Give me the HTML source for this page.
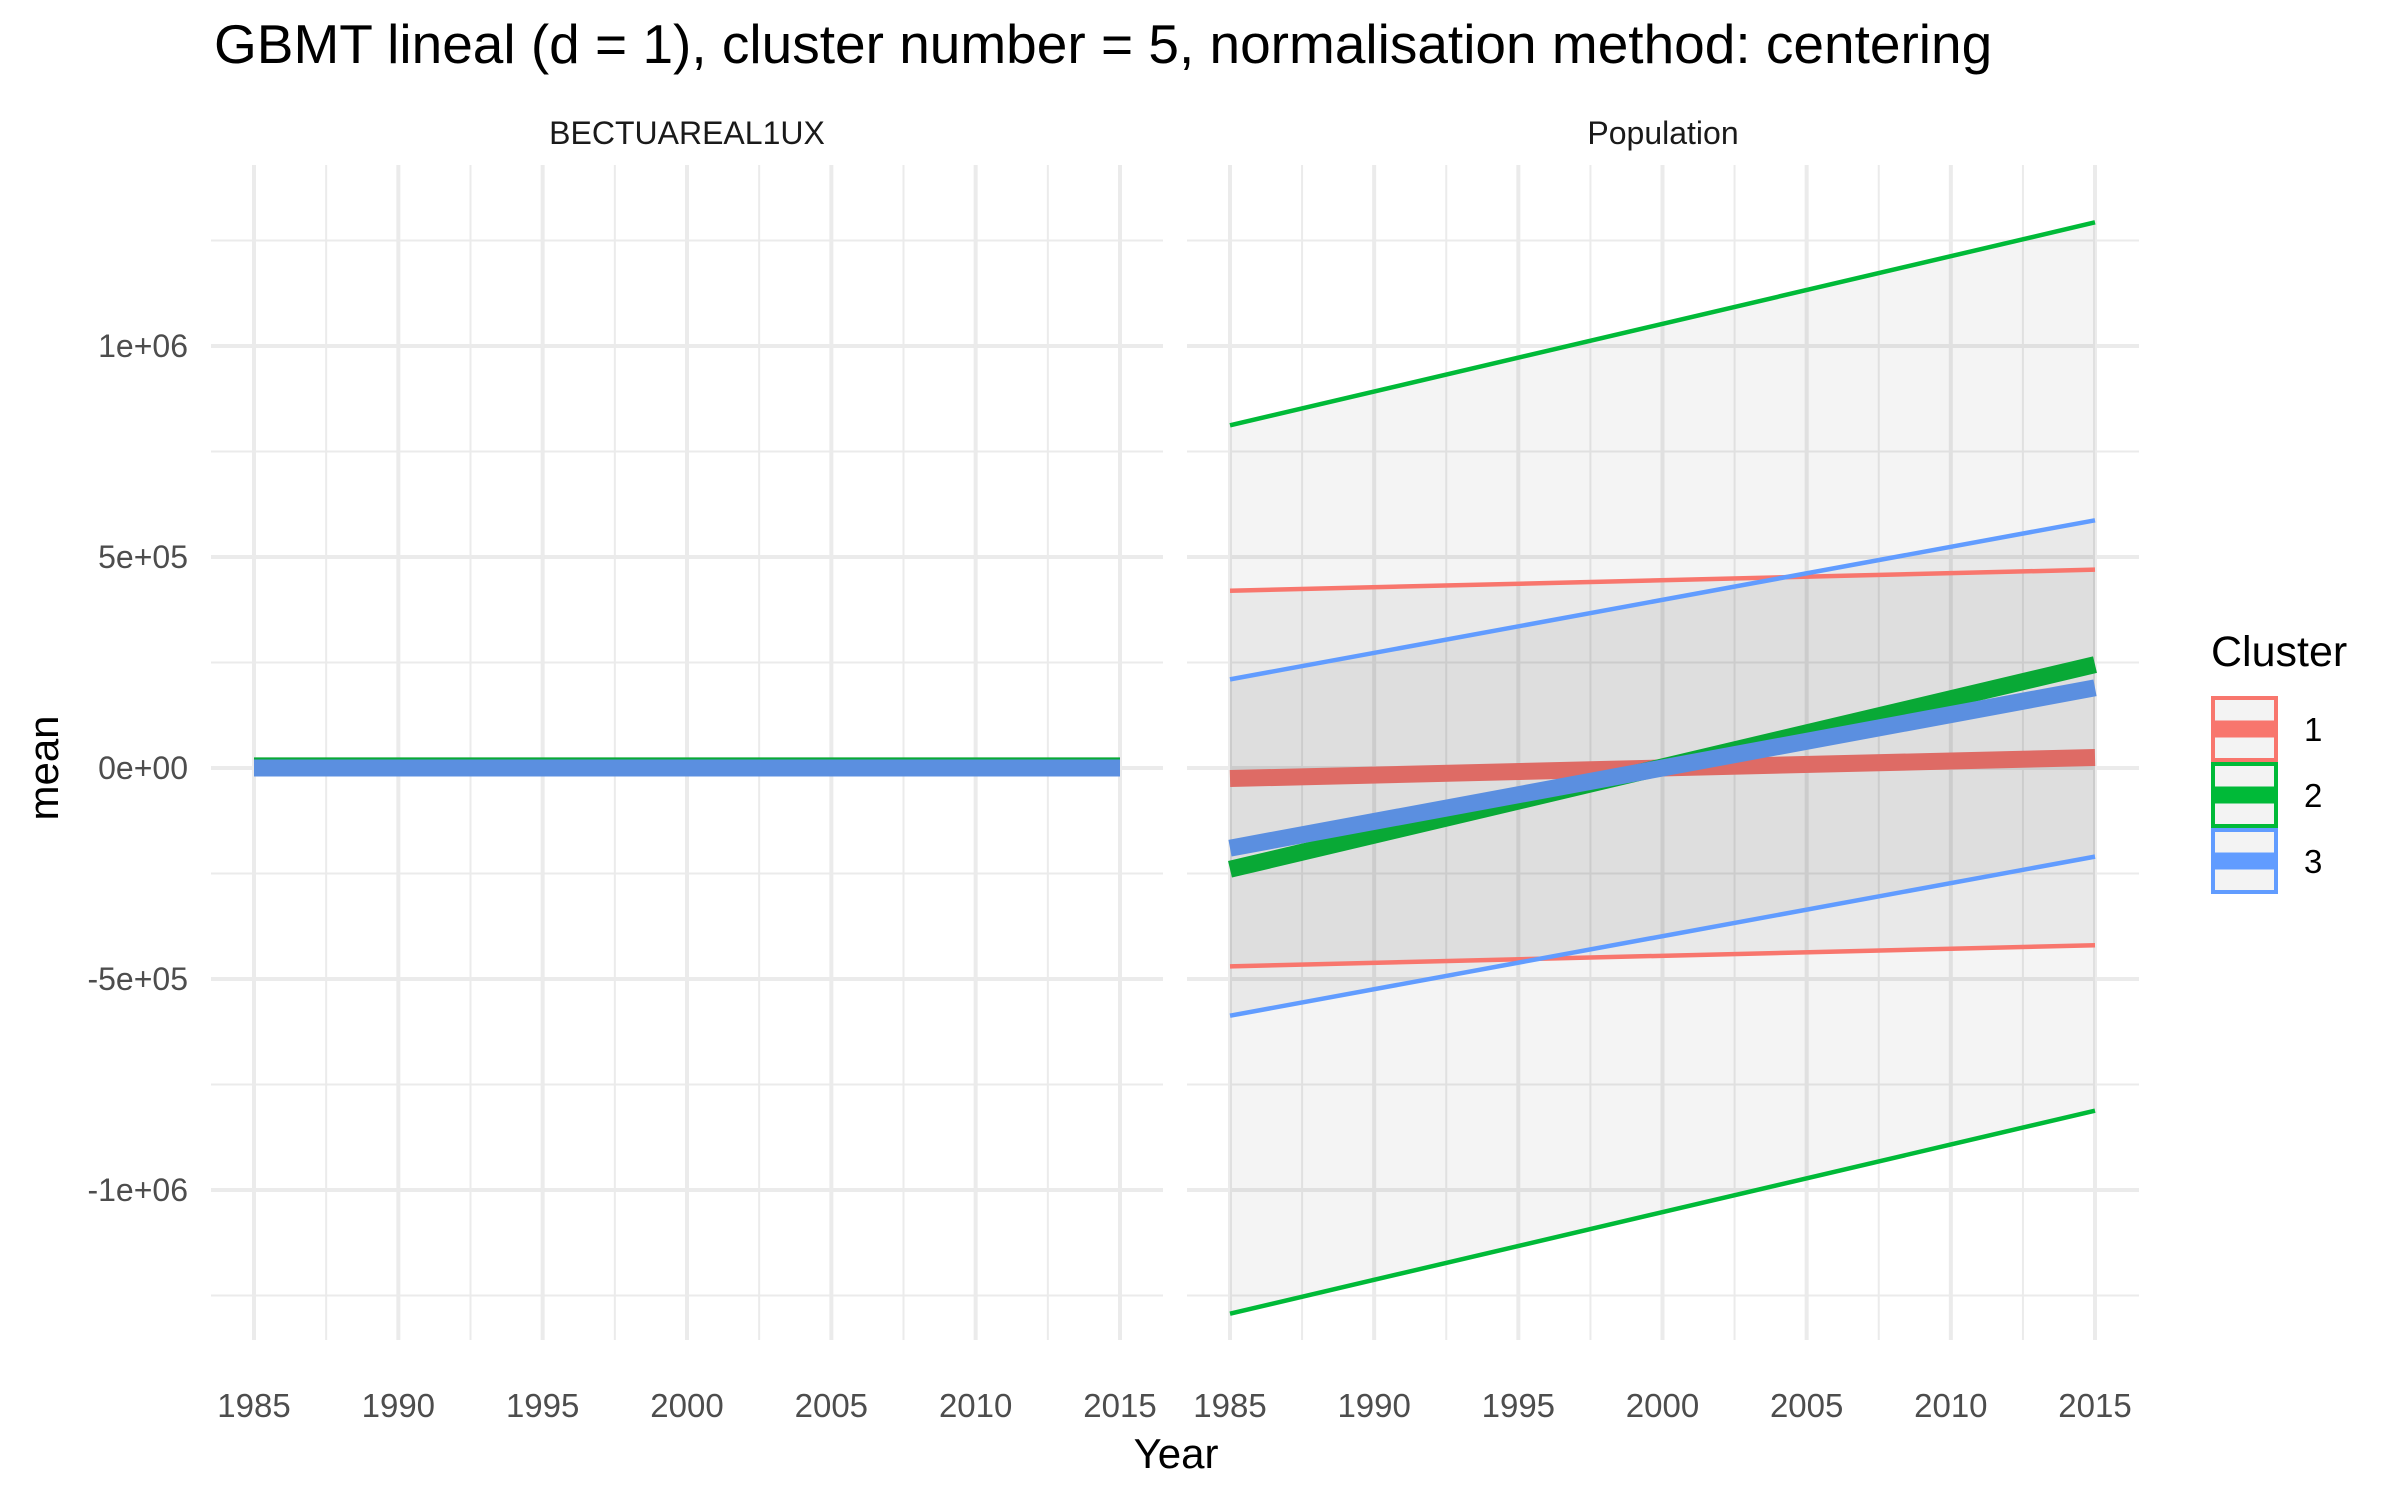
<!DOCTYPE html>
<html><head><meta charset="utf-8"><style>
html,body{margin:0;padding:0;background:#fff;}
svg{display:block;font-family:"Liberation Sans",sans-serif;}
</style></head><body>
<svg id="c" width="2400" height="1500" xmlns="http://www.w3.org/2000/svg">
<text x="214" y="63" font-size="55" fill="#000">GBMT lineal (d = 1), cluster number = 5, normalisation method: centering</text>
<text x="687" y="144" font-size="32" fill="#1a1a1a" text-anchor="middle">BECTUAREAL1UX</text>
<text x="1663" y="144" font-size="32" fill="#1a1a1a" text-anchor="middle">Population</text>
<text x="1176" y="1468" font-size="42" fill="#000" text-anchor="middle">Year</text>
<text transform="translate(58,768) rotate(-90)" font-size="42" fill="#000" text-anchor="middle">mean</text>
<g id="legend">
<text x="2211" y="666" font-size="43" fill="#000">Cluster</text>
</g>
</svg>
<script>
const years=[1985,2015];
const clusters=["1","2","3"];
const colors=["#F8766D","#00BA38","#619CFF"];
const meanColors=["#DE6B65","#09A936","#5B8FE0"];
// Population panel (values at 1985, 2015)
const popMean=[[-25000,25000],[-240000,245000],[-190000,190000]];
const popUpper=[[420000,470000],[812000,1293000],[210000,587000]];
const popLower=[[-470000,-420000],[-1293000,-812000],[-587000,-210000]];
// BECTUAREAL1UX panel
const bMean=[[0,0],[5000,5000],[0,0]];
const bUpper=[[1000,1000],[15000,15000],[1000,1000]];
const bLower=[[-1000,-1000],[-5000,-5000],[-1000,-1000]];
const yTicks=[1000000,500000,0,-500000,-1000000];
const yTickLabels=["1e+06","5e+05","0e+00","-5e+05","-1e+06"];
const xTicks=[1985,1990,1995,2000,2005,2010,2015];

const NS="http://www.w3.org/2000/svg";
const svg=document.getElementById('c');
const Y=v=>768-v*422e-6;
const panelTop=165,panelBot=1340;
const panels=[{x0:211,x1:1163,a:254,b:1120,name:'bectuareal1ux',m:bMean,u:bUpper,l:bLower},
              {x0:1187,x1:2139,a:1230,b:2095,name:'population',m:popMean,u:popUpper,l:popLower}];
function mk(t,at,parent){const e=document.createElementNS(NS,t);for(const k in at)e.setAttribute(k,at[k]);(parent||svg).appendChild(e);return e;}
panels.forEach(p=>{
  const X=yr=>p.a+(yr-1985)*(p.b-p.a)/30;
  const g=mk('g',{});
  
  
  for(let v=-1250000;v<=1250000;v+=500000){
    const e=mk('line',{x1:p.x0,x2:p.x1,y1:Y(v),y2:Y(v),stroke:'#ebebeb','stroke-width':2},g);
    
    
  }
  for(let yr=1987.5;yr<2015;yr+=5){
    const e=mk('line',{x1:X(yr),x2:X(yr),y1:panelTop,y2:panelBot,stroke:'#ebebeb','stroke-width':2},g);
    
    
  }
  yTicks.forEach(v=>{
    const e=mk('line',{x1:p.x0,x2:p.x1,y1:Y(v),y2:Y(v),stroke:'#ebebeb','stroke-width':4},g);
    
    
  });
  xTicks.forEach(yr=>{
    const e=mk('line',{x1:X(yr),x2:X(yr),y1:panelTop,y2:panelBot,stroke:'#ebebeb','stroke-width':4},g);
    
    
    const t=mk('text',{x:X(yr),y:1417,'font-size':33,fill:'#4d4d4d','text-anchor':'middle'},g);
    t.textContent=yr;
    
    
  });
  [1,0,2].forEach(i=>{
    const pts=[[X(years[0]),Y(p.u[i][0])],[X(years[1]),Y(p.u[i][1])],[X(years[1]),Y(p.l[i][1])],[X(years[0]),Y(p.l[i][0])]];
    const e=mk('polygon',{points:pts.map(q=>q.join(',')).join(' '),fill:'#000','fill-opacity':0.045},g);
    
    
  });
  [0,1,2].forEach(i=>{
    [p.u,p.l].forEach((arr,k)=>{
      const e=mk('line',{x1:X(years[0]),y1:Y(arr[i][0]),x2:X(years[1]),y2:Y(arr[i][1]),stroke:colors[i],'stroke-width':4.5},g);
      
      
    });
  });
  [0,1,2].forEach(i=>{
    const e=mk('line',{x1:X(years[0]),y1:Y(p.m[i][0]),x2:X(years[1]),y2:Y(p.m[i][1]),stroke:meanColors[i],'stroke-width':17},g);
    
    
  });
});
yTicks.forEach((v,i)=>{
  const t=mk('text',{x:188,y:Y(v)+11,'font-size':32,fill:'#4d4d4d','text-anchor':'end'});
  t.textContent=yTickLabels[i];
  
  
});
const lg=document.getElementById('legend');
clusters.forEach((c,i)=>{
  const y0=698+i*66;
  const r=mk('rect',{x:2213,y:y0,width:63,height:62,fill:'#f3f3f3',stroke:colors[i],'stroke-width':4},lg);
  
  
  const l=mk('line',{x1:2215,x2:2274,y1:y0+31,y2:y0+31,stroke:colors[i],'stroke-width':17},lg);
  
  
  const t=mk('text',{x:2304,y:y0+43,'font-size':33,fill:'#000'},lg);
  t.textContent=c;
  
  
});
</script>
</body></html>
